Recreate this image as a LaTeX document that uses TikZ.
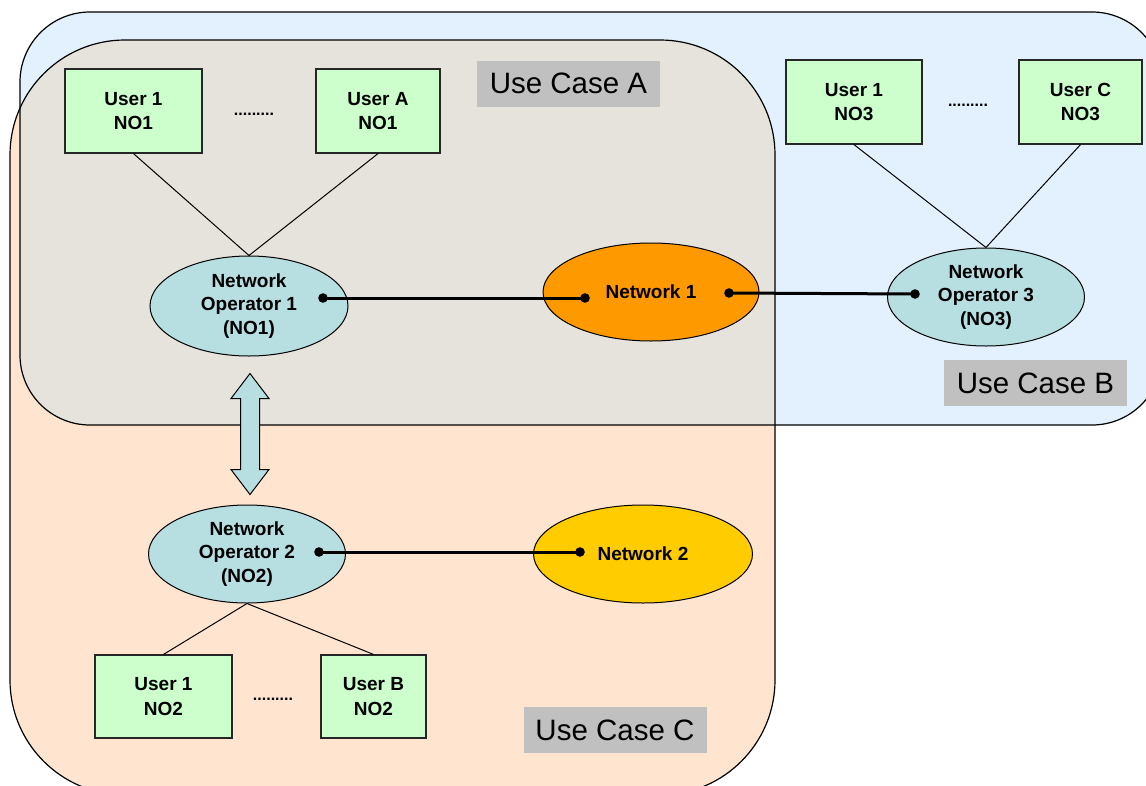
\documentclass[tikz,border=0pt]{standalone}
\usepackage{fontspec}
\setmainfont{Liberation Sans}
\usetikzlibrary{shapes.geometric,calc}
\definecolor{regB}{HTML}{E2F1FD}
\definecolor{regC}{HTML}{FFE4CF}
\definecolor{regAB}{HTML}{E5E3DC}
\definecolor{userg}{HTML}{CCFFCC}
\definecolor{opc}{HTML}{B7DEE1}
\definecolor{netone}{HTML}{FF9900}
\definecolor{nettwo}{HTML}{FFCC00}
\definecolor{lblg}{HTML}{C0C0C0}
\begin{document}
\begin{tikzpicture}[x=1pt,y=-1pt,
  userbox/.style={draw=black!85, line width=1.2pt, fill=userg, minimum height=84pt,
    inner sep=0pt, align=center, font=\bfseries\fontsize{19}{24.5}\selectfont},
  opell/.style={ellipse, draw=black, line width=1pt, fill=opc, inner sep=0pt,
    align=center, font=\bfseries\fontsize{19}{23.5}\selectfont},
  netell/.style={ellipse, draw=black, line width=1pt, inner sep=0pt,
    align=center, font=\bfseries\fontsize{19}{23}\selectfont},
  ucl/.style={fill=lblg, inner sep=0pt, minimum width=183pt, minimum height=46pt,
    font=\fontsize{29.5}{34}\selectfont},
  dotsl/.style={anchor=base, inner sep=0pt, font=\bfseries\fontsize{16}{20}\selectfont},
  thin/.style={draw=black, line width=1pt},
  thick/.style={draw=black, line width=3pt},
  pin/.style={fill=black},
  region/.style={draw=black, line width=1.2pt},
  arrowbody/.style={draw=black, line width=1pt, fill=opc, line join=miter}
]
\useasboundingbox (0,0) rectangle (1146,785);
\clip (0,0) rectangle (1146,785);
\fill[white] (0,0) rectangle (1146,785);

% regions
\def\regionB{(20,12) rectangle (1162,425)}
\def\regionC{(10,40) rectangle (775,795)}
\fill[regB, rounded corners=70pt] \regionB;
\fill[regC, rounded corners=115pt] \regionC;
\begin{scope}
  \clip[rounded corners=70pt] \regionB;
  \fill[regAB, rounded corners=115pt] \regionC;
\end{scope}
\draw[region, rounded corners=70pt] \regionB;
\draw[region, rounded corners=115pt] \regionC;

% labels
\node[ucl] (lA) at (568.5,83.5) {Use Case A};
\node[ucl] (lB) at (1035.5,383) {Use Case B};
\node[ucl] (lC) at (615,730) {Use Case C};

% users
\node[userbox, minimum width=137pt] (u1a) at (133.5,111) {User 1\\NO1};
\node[userbox, minimum width=124pt] (uAa) at (378,111) {User A\\NO1};
\node[userbox, minimum width=136pt] (u1c) at (854,102) {User 1\\NO3};
\node[userbox, minimum width=123pt] (uCc) at (1080.5,102) {User C\\NO3};
\node[userbox, minimum width=137pt, minimum height=83pt] (u1b) at (163.5,696.5) {User 1\\NO2};
\node[userbox, minimum width=105pt, minimum height=83pt] (uBb) at (373.5,696.5) {User B\\NO2};

\node[dotsl] (d1) at (254,115.5) {.........};
\node[dotsl] (d2) at (968,106) {.........};
\node[dotsl] (d3) at (273,700) {.........};

% ellipses
\node[opell, minimum width=198pt, minimum height=100pt] (no1) at (249,306) {Network\\Operator 1\\(NO1)};
\node[netell, fill=netone, minimum width=216pt, minimum height=98pt] (net1) at (651,292) {Network 1};
\node[opell, minimum width=197pt, minimum height=98pt] (no3) at (986,297) {Network\\Operator 3\\(NO3)};
\node[opell, minimum width=197pt, minimum height=98pt] (no2) at (247,554) {Network\\Operator 2\\(NO2)};
\node[netell, fill=nettwo, minimum width=219pt, minimum height=98pt] (net2) at (643,554) {Network 2};

% thin connectors
\draw[thin] (u1a.south) -- (no1.north);
\draw[thin] (uAa.south) -- (no1.north);
\draw[thin] (u1c.south) -- (no3.north);
\draw[thin] (uCc.south) -- (no3.north);
\draw[thin] (no2.south) -- (u1b.north);
\draw[thin] (no2.south) -- (uBb.north);

% thick connectors with dots
\coordinate (p1) at (323,298);
\coordinate (p2) at (585,298);
\coordinate (p3) at (729,293);
\coordinate (p4) at (915,294);
\coordinate (p5) at (319,552);
\coordinate (p6) at (580,552);
\draw[thick] (p1) -- (p2);
\draw[thick] (p3) -- (p4);
\draw[thick] (p5) -- (p6);
\foreach \p in {p1,p2,p3,p4,p5,p6} \fill[pin] (\p) circle (4.8pt);

% double arrow between NO1 and NO2
\coordinate (at) at ($(no1.south)+(1,17)$);
\coordinate (ab) at ($(no2.north)+(3,-10)$);
\draw[arrowbody] let \p1=(at), \p2=(ab) in
  (\x1,\y1) -- (\x1+19pt,\y1-25pt) -- (\x1+9.5pt,\y1-25pt) -- (\x1+9.5pt,\y2+25pt)
  -- (\x1+19pt,\y2+25pt) -- (\x1,\y2) -- (\x1-19pt,\y2+25pt) -- (\x1-9.5pt,\y2+25pt)
  -- (\x1-9.5pt,\y1-25pt) -- (\x1-19pt,\y1-25pt) -- cycle;
\end{tikzpicture}
\end{document}
